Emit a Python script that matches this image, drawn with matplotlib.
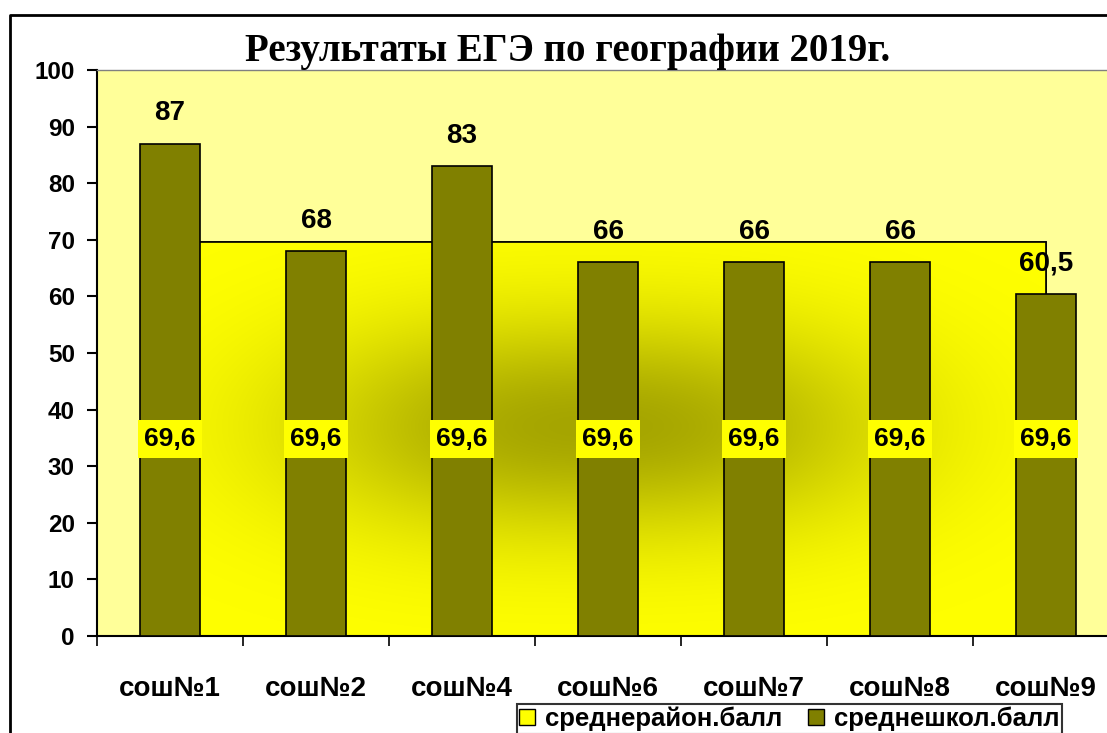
import numpy as np
import matplotlib
matplotlib.use("Agg")
import matplotlib.pyplot as plt
from matplotlib.patches import Polygon
from matplotlib.lines import Line2D

# data
schools = ["сош№1", "сош№2", "сош№4", "сош№6", "сош№7", "сош№8", "сош№9"]
school_avg = [87, 68, 83, 66, 66, 66, 60.5]
district_avg = [69.6, 69.6, 69.6, 69.6, 69.6, 69.6, 69.6]
school_lbl = ["87", "68", "83", "66", "66", "66", "60,5"]
district_lbl = ["69,6"] * 7

W, H = 1107, 733
fig = plt.figure(figsize=(W / 100, H / 100), dpi=100, facecolor="white")
SANS = ["Liberation Sans", "DejaVu Sans"]
SERIF = ["Liberation Serif", "DejaVu Serif"]

# chart border: only top and left edges are visible, the rest is cropped off
fig.add_artist(Line2D([10 / W, 10 / W, 1.1], [-0.1, 1 - 15 / H, 1 - 15 / H],
                      transform=fig.transFigure, color="black", lw=2))

# plot area runs past the right edge, like the cropped original
left, right, top, bot = 97, 97 + 7 * 146, 70, 636
ax = fig.add_axes([left / W, 1 - bot / H, (right - left) / W, (bot - top) / H])
ax.set_facecolor("#FFFF99")
x = np.arange(len(schools))
ax.set_xlim(-0.5, len(schools) - 0.5)
ax.set_ylim(0, 100)

# district average area (yellow, darker in the middle)
verts = [(x[0], 0)] + list(zip(x, district_avg)) + [(x[-1], 0)]
area = Polygon(verts, closed=True, fc="#FFFF00", ec="black", lw=1.2, zorder=2)
ax.add_patch(area)
gx, gy = np.meshgrid(np.linspace(-0.5, 6.5, 400), np.linspace(0, 100, 300))
d = np.exp(-(((gx - 2.9) / 2.0) ** 2) ** 1.2 - (((gy - 37) / 19) ** 2))
img = np.zeros(gx.shape + (3,))
img[..., 0] = (255 - 90 * d) / 255
img[..., 1] = (255 - 90 * d) / 255
im = ax.imshow(img, extent=(-0.5, 6.5, 0, 100), origin="lower", aspect="auto",
               zorder=2.1, interpolation="bilinear")
im.set_clip_path(area)
ax.add_patch(Polygon(verts, closed=True, fill=False, ec="black", lw=1.2, zorder=2.2))

# school bars
ax.bar(x, school_avg, width=0.41, color="#808000", ec="black", lw=1.2, zorder=3)

for xi, v, s in zip(x, school_avg, school_lbl):
    ax.annotate(s, (xi, v), xytext=(0, 22), textcoords="offset points",
                ha="center", va="center", fontsize=20, fontweight="bold",
                family=SANS, zorder=5)
for xi, v, s in zip(x, district_avg, district_lbl):
    ax.text(xi, v / 2, s, ha="center", va="center", fontsize=19, fontweight="bold",
            family=SANS, zorder=5,
            bbox=dict(boxstyle="square,pad=0.25", fc="#FFFF00", ec="none"))

# axes styling
ax.spines["right"].set_visible(False)
ax.spines["top"].set_color("#808080")
ax.spines["top"].set_linewidth(1)
ax.spines["left"].set_linewidth(1.5)
ax.spines["bottom"].set_linewidth(1.5)
ax.set_yticks(range(0, 101, 10))
ax.tick_params(axis="y", direction="out", length=7, width=1.5, pad=9, labelsize=17.5)
for t in ax.get_yticklabels():
    t.set_fontweight("bold")
    t.set_family(SANS)
ax.set_xticks(x)
ax.set_xticklabels(schools)
ax.tick_params(axis="x", which="major", length=0, pad=29, labelsize=20)
for t in ax.get_xticklabels():
    t.set_fontweight("bold")
    t.set_family(SANS)
ax.set_xticks(np.arange(-0.5, len(schools), 1), minor=True)
ax.tick_params(axis="x", which="minor", direction="inout", length=14, width=1.2)

fig.text(568 / W, 1 - 51 / H, "Результаты ЕГЭ по географии 2019г.", ha="center",
         va="center", fontsize=28, fontweight="bold", family=SERIF)

handles = [Line2D([0], [0], marker="s", color="none", markerfacecolor="#FFFF00",
                  markeredgecolor="black", markersize=11, label="среднерайон.балл"),
           Line2D([0], [0], marker="s", color="none", markerfacecolor="#808000",
                  markeredgecolor="black", markersize=11, label="среднешкол.балл")]
leg = fig.legend(handles=handles, loc="upper left", bbox_to_anchor=(517 / W, 1 - 704 / H),
                 ncol=2, frameon=True, fancybox=False, edgecolor="black",
                 prop=dict(family=SANS, weight="bold", size=18.5), handlelength=0.6,
                 handletextpad=0.4, columnspacing=1.0, borderpad=0.1, borderaxespad=0)
leg.get_frame().set_linewidth(1.5)

fig.savefig("out.png", dpi=100, facecolor="white")
